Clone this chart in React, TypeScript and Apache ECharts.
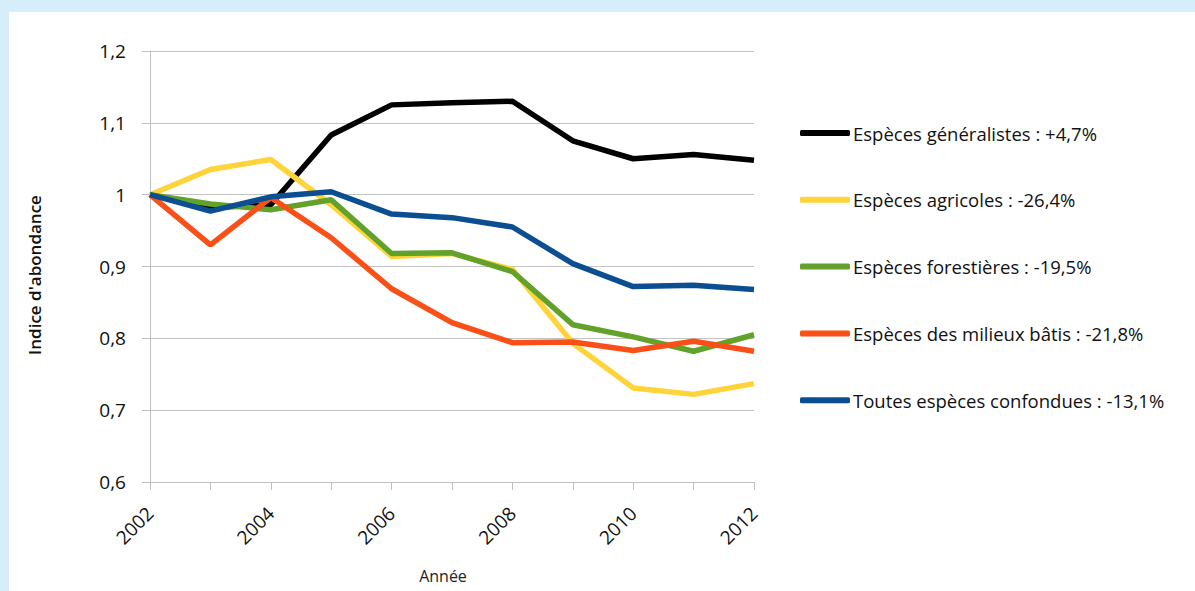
import React, { useEffect, useRef } from "react";
import * as echarts from "echarts";

const years = ["2002", "2003", "2004", "2005", "2006", "2007", "2008", "2009", "2010", "2011", "2012"];
const generalistes = [1.0, 0.982, 0.986, 1.083, 1.125, 1.128, 1.13, 1.075, 1.05, 1.056, 1.048];
const agricoles = [1.0, 1.035, 1.049, 0.986, 0.914, 0.918, 0.896, 0.793, 0.731, 0.722, 0.737];
const forestieres = [1.0, 0.987, 0.979, 0.993, 0.918, 0.919, 0.893, 0.819, 0.802, 0.782, 0.805];
const batis = [1.0, 0.93, 0.996, 0.94, 0.869, 0.822, 0.794, 0.795, 0.783, 0.796, 0.782];
const toutes = [1.0, 0.977, 0.997, 1.004, 0.973, 0.968, 0.955, 0.904, 0.872, 0.874, 0.868];

const seriesNames = [
  "Espèces généralistes : +4,7%",
  "Espèces agricoles : -26,4%",
  "Espèces forestières : -19,5%",
  "Espèces des milieux bâtis : -21,8%",
  "Toutes espèces confondues : -13,1%",
];
const seriesData = [generalistes, agricoles, forestieres, batis, toutes];
const colors = ["#000000", "#ffd43a", "#62a22a", "#fa4f17", "#0b4e91"];

const FONT = "'Open Sans', sans-serif";

export default function App() {
  const ref = useRef<HTMLDivElement>(null);
  useEffect(() => {
    if (!ref.current) return;
    const chart = echarts.init(ref.current, undefined, { renderer: "svg" });
    chart.setOption({
      animation: false,
      backgroundColor: "#d6eefa",
      textStyle: { fontFamily: FONT },
      graphic: [
        {
          type: "rect",
          z: -100,
          shape: { x: 9, y: 12, width: 1186, height: 579 },
          style: { fill: "#ffffff" },
          silent: true,
        },
      ],
      grid: { left: 150, right: 441, top: 51, bottom: 109, containLabel: false },
      legend: {
        orient: "vertical",
        left: 800,
        top: 123,
        padding: 0,
        itemWidth: 50,
        itemHeight: 6,
        itemGap: 46.8,
        icon: "roundRect",
        textStyle: { fontSize: 18.5, color: "#111", fontFamily: FONT, lineHeight: 20, padding: [0, 0, 0, -2] },
        data: seriesNames,
      },
      xAxis: {
        type: "category",
        data: years,
        boundaryGap: false,
        name: "Année",
        nameLocation: "middle",
        nameGap: 86,
        nameTextStyle: { fontSize: 16, color: "#222", padding: [0, 18, 0, 0] },
        axisLine: { lineStyle: { color: "#bfbfbf", width: 1 } },
        axisTick: { show: true, length: 8, interval: 0, lineStyle: { color: "#bfbfbf" } },
        axisLabel: { interval: 1, rotate: 45, fontSize: 19, color: "#111", margin: 28 },
        splitLine: { show: false },
      },
      yAxis: {
        type: "value",
        min: 0.6,
        max: 1.2,
        interval: 0.1,
        name: "Indice d'abondance",
        nameLocation: "middle",
        nameGap: 107,
        nameTextStyle: { fontSize: 17, fontWeight: 600, color: "#111", padding: [0, 17, 0, 0] },
        axisLine: { show: true, lineStyle: { color: "#bfbfbf", width: 1 } },
        axisTick: { show: true, length: 8, lineStyle: { color: "#bfbfbf" } },
        axisLabel: {
          fontSize: 19,
          color: "#111",
          margin: 24,
          formatter: (v: number) => String(Math.round(v * 10) / 10).replace(".", ","),
        },
        splitLine: { show: true, lineStyle: { color: "#c4c4c4", width: 1 } },
      },
      series: seriesNames.map((name, i) => ({
        name,
        type: "line",
        data: seriesData[i],
        symbol: "none",
        color: colors[i],
        lineStyle: { width: 5.5, color: colors[i] },
      })),
    });
    return () => chart.dispose();
  }, []);
  return (
    <div
      ref={ref}
      style={{ position: "fixed", left: 0, top: 0, width: 1195, height: 591 }}
    />
  );
}
